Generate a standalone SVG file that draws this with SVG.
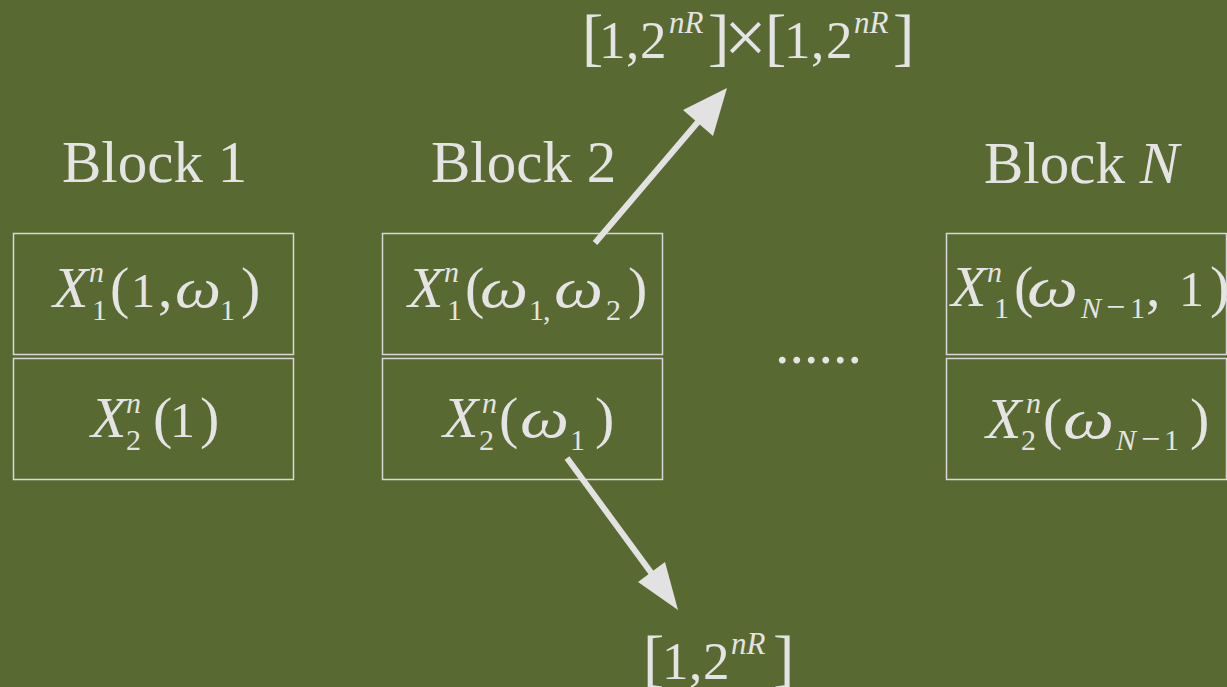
<svg xmlns="http://www.w3.org/2000/svg" width="1227" height="687" viewBox="0 0 1227 687" font-family="'Liberation Serif', 'Times New Roman', serif">
<style>
text{font-family:'Liberation Serif','Times New Roman',serif;fill:#e4e4e4}
.i{font-style:italic}
.m{font-size:58px}
.s{font-size:30px}
.box{fill:none;stroke:#d8d8d8;stroke-width:1.5}
.arr{stroke:#e2e2e2;stroke-width:6;fill:none}
.head{fill:#e2e2e2}
</style>
<rect width="1227" height="687" fill="#586a31"/>

<g id="label-block1"><text x="62" y="182" font-size="59">Block 1</text></g>
<g id="label-block2"><text x="431" y="182" font-size="59">Block 2</text></g>
<g id="label-blockN"><text x="984" y="183" font-size="59">Block <tspan class="i">N</tspan></text></g>

<g id="b1-top">
<rect class="box" x="13.5" y="233.5" width="280" height="121"/>
<text class="m i" x="53" y="307">X</text>
<text class="s i" x="89" y="282">n</text>
<text class="s" x="92" y="320">1</text>
<text class="m" x="110" y="307">(</text>
<text x="131" y="307" font-size="48">1</text>
<text class="m" x="158" y="307">,</text>
<text class="m i" x="175" y="307" textLength="46" lengthAdjust="spacingAndGlyphs">ω</text>
<text class="s" x="220" y="320">1</text>
<text class="m" x="241" y="307">)</text>
</g>
<g id="b1-bot">
<rect class="box" x="13.5" y="358.5" width="280" height="121"/>
<text class="m i" x="91" y="437">X</text>
<text class="s i" x="126" y="413">n</text>
<text class="s" x="126" y="450">2</text>
<text class="m" x="153" y="437">(</text>
<text x="170" y="437" font-size="50">1</text>
<text class="m" x="200" y="437">)</text>
</g>

<g id="b2-top">
<rect class="box" x="382.5" y="233.5" width="280" height="121"/>
<text class="m i" x="408" y="307">X</text>
<text class="s i" x="444" y="282">n</text>
<text class="s" x="447" y="320">1</text>
<text class="m" x="465" y="307">(</text>
<text class="m i" x="480" y="307" textLength="48" lengthAdjust="spacingAndGlyphs">ω</text>
<text class="s" x="529" y="320">1</text>
<text class="s" x="543" y="320">,</text>
<text class="m i" x="554" y="307" textLength="49" lengthAdjust="spacingAndGlyphs">ω</text>
<text class="s" x="606" y="320">2</text>
<text class="m" x="628" y="307">)</text>
</g>
<g id="b2-bot">
<rect class="box" x="382.5" y="358.5" width="280" height="121"/>
<text class="m i" x="443" y="437">X</text>
<text class="s i" x="482" y="413">n</text>
<text class="s" x="479" y="450">2</text>
<text class="m" x="499" y="437">(</text>
<text class="m i" x="520" y="437" textLength="49" lengthAdjust="spacingAndGlyphs">ω</text>
<text class="s" x="570" y="450">1</text>
<text class="m" x="595" y="437">)</text>
</g>

<g id="dots"><text x="775" y="363" font-size="58">......</text></g>

<g id="bN-top">
<rect class="box" x="946.5" y="233.5" width="280" height="121"/>
<text class="m i" x="951" y="306">X</text>
<text class="s i" x="987" y="282">n</text>
<text class="s" x="994" y="318">1</text>
<text class="m" x="1014" y="306">(</text>
<text class="m i" x="1027" y="306" textLength="51" lengthAdjust="spacingAndGlyphs">ω</text>
<text class="s i" x="1081" y="318">N</text>
<text x="1106" y="318" font-size="34">−</text>
<text class="s" x="1130" y="318">1</text>
<text class="m" x="1146" y="306">,</text>
<text x="1179" y="306" font-size="50">1</text>
<text class="m" x="1210" y="306">)</text>
</g>
<g id="bN-bot">
<rect class="box" x="946.5" y="358.5" width="280" height="121"/>
<text class="m i" x="986" y="438">X</text>
<text class="s i" x="1026" y="413">n</text>
<text class="s" x="1021" y="450">2</text>
<text class="m" x="1043" y="438">(</text>
<text class="m i" x="1063" y="438" textLength="51" lengthAdjust="spacingAndGlyphs">ω</text>
<text class="s i" x="1116" y="450">N</text>
<text x="1141" y="450" font-size="34">−</text>
<text class="s" x="1164" y="450">1</text>
<text class="m" x="1190" y="438">)</text>
</g>

<g id="label-top">
<text x="582" y="58" font-size="64">[</text>
<text x="599" y="58" font-size="53">1</text>
<text x="626" y="58" font-size="53">,</text>
<text x="640" y="58" font-size="53">2</text>
<text class="i" x="669" y="33" font-size="31">nR</text>
<text x="708" y="58" font-size="64">]</text>
<text x="724" y="63" font-size="76">×</text>
<text x="765" y="58" font-size="64">[</text>
<text x="784" y="58" font-size="53">1</text>
<text x="811" y="58" font-size="53">,</text>
<text x="826" y="58" font-size="53">2</text>
<text class="i" x="854" y="33" font-size="31">nR</text>
<text x="893" y="58" font-size="64">]</text>
</g>
<g id="label-bottom">
<text x="643" y="679" font-size="64">[</text>
<text x="662" y="679" font-size="53">1</text>
<text x="689" y="679" font-size="53">,</text>
<text x="703" y="679" font-size="53">2</text>
<text class="i" x="731" y="654" font-size="31">nR</text>
<text x="773" y="679" font-size="64">]</text>
</g>

<g id="connectors">
<line class="arr" x1="595" y1="243" x2="703" y2="116"/>
<polygon class="head" points="727,88 683,110 713,136"/>
<line class="arr" x1="567" y1="458" x2="655" y2="578"/>
<polygon class="head" points="678,610 638,582 665,562"/>
</g>
</svg>
